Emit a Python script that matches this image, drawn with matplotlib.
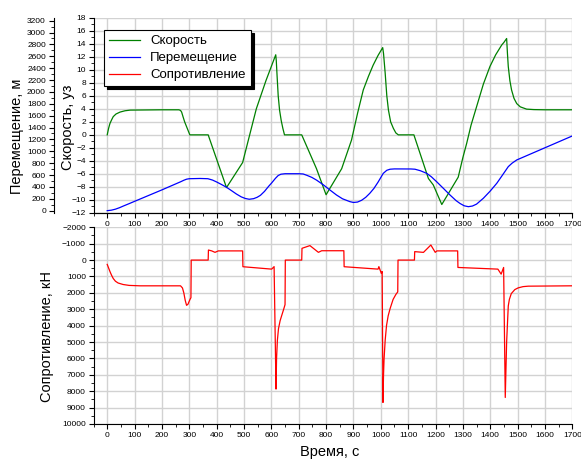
import matplotlib
matplotlib.use("Agg")
import matplotlib.pyplot as plt
from matplotlib.lines import Line2D
from matplotlib.ticker import MultipleLocator

plt.rcParams['font.family'] = ['Liberation Sans', 'DejaVu Sans']

# скорость, уз
t_speed = [0, 5, 10, 16, 22, 32, 47, 65, 84, 200, 262, 268, 272, 277, 283, 302, 369, 436,
           495, 545, 580, 616, 618, 621, 625, 630, 636, 642, 648, 711, 765, 800, 857,
           893, 915, 936, 955, 972, 990, 1007, 1010, 1016, 1022, 1028, 1036, 1046,
           1055, 1064, 1121, 1174, 1192, 1223, 1283, 1300, 1314, 1330, 1350, 1375,
           1399, 1420, 1442, 1450, 1460, 1463, 1466, 1472, 1478, 1487, 1497, 1510,
           1533, 1560, 1600, 1700]
speed = [0, 1.0, 1.75, 2.3, 2.8, 3.2, 3.5, 3.7, 3.8, 3.85, 3.85, 3.75, 3.5, 2.8, 2.0, 0, 0, -8.1,
         -4.25, 4.0, 8.3, 12.3, 11.4, 9.0, 6.0, 3.8, 2.2, 1.0, 0, 0, -5.2, -9.2, -5.2,
         -0.8, 3.3, 6.9, 9.0, 10.7, 12.2, 13.4, 12.5, 9.5, 6.0, 3.8, 2.0, 1.0,
         0.3, 0, 0, -6.7, -7.7, -10.7, -6.5, -3.5, -1.3, 1.5, 4.3, 7.8,
         10.5, 12.3, 13.8, 14.2, 14.8, 12.5, 10.5, 8.3, 6.9, 5.6, 4.8, 4.3,
         3.95, 3.88, 3.85, 3.85]

# перемещение, м
t_disp = [0, 15, 30, 45, 60, 80, 100, 200, 270, 280, 290, 300, 340, 368, 385, 400, 418,
          436, 455, 472, 490, 505, 519, 535, 548, 560, 575, 590, 600, 615, 625, 635,
          650, 700, 716, 730, 748, 765, 790, 815, 838, 860, 887, 900, 915, 930, 945,
          960, 975, 990, 1009, 1022, 1034, 1050, 1110, 1125, 1145, 1168, 1185, 1204,
          1230, 1253, 1275, 1290, 1305, 1320, 1335, 1350, 1375, 1400, 1424, 1445,
          1466, 1480, 1497, 1700]
disp = [0, 8, 25, 50, 80, 118, 157, 350, 490, 512, 530, 538, 542, 538, 515, 483, 440,
        394, 335, 281, 232, 205, 192, 202, 225, 258, 325, 410, 461, 545, 592, 614,
        622, 622, 618, 595, 560, 515, 435, 345, 264, 200, 152, 138, 145, 175, 225,
        293, 375, 480, 628, 680, 698, 703, 702, 698, 672, 628, 570, 488,
        370, 264, 170, 120, 82, 67, 78, 110, 209, 330, 461, 600,
        741, 800, 854, 1258]

# сопротивление, кН
t_res = [0, 5, 10, 16, 22, 30, 40, 58, 80, 120, 268, 275, 280, 285, 290, 295, 300,
         304, 306, 307, 369, 370, 382, 394, 406, 495, 496, 601, 610, 617, 619, 622,
         626, 632, 638, 645, 650, 651, 711, 712, 741, 772, 784, 865, 866, 990, 993,
         1002, 1005, 1008, 1010, 1012, 1016, 1021, 1027, 1034, 1045, 1055, 1062,
         1063, 1123, 1124, 1156, 1183, 1199, 1205, 1281, 1282, 1428, 1440, 1449,
         1455, 1460, 1466, 1470, 1477, 1490, 1502, 1520, 1539, 1700]
res = [264, 480, 700, 930, 1123, 1290, 1400, 1490, 1545, 1571, 1571, 1700, 2000, 2450,
       2760, 2700, 2500, 2350, 2300, 0, 0, -613, -560, -472, -560, -560, 405, 552, 400,
       7871, 6000, 4900, 4190, 3700, 3374, 3000, 2718, 0, 0, -718, -883, -472, -570,
       -570, 405, 552, 400, 816, 700, 8687, 7000, 6030, 4900, 3988, 3400, 2963,
       2400, 2100, 1941, 0, 0, -515, -470, -920, -472, -560, -560, 450, 552, 858,
       450, 8384, 5000, 2800, 2400, 2045, 1800, 1697, 1620, 1592, 1570]

GREEN = '#008000'
BLUE = '#0000ff'
RED = '#ff0000'
GRID = '#d2d2d2'


def style_axis(a):
    a.spines['top'].set_visible(False)
    a.spines['right'].set_visible(False)
    a.tick_params(which='major', direction='out', length=3.5, width=0.8, labelsize=6, pad=2)
    a.tick_params(which='minor', direction='out', length=2, width=0.6)


fig = plt.figure(figsize=(5.81, 4.59), dpi=100)

# верхний график: скорость и перемещение
ax = fig.add_axes([0.161, 0.536, 0.824, 0.4255])
ax.set_xlim(-50, 1700)
ax.set_ylim(-12, 18)
ax.xaxis.set_major_locator(MultipleLocator(100))
ax.xaxis.set_minor_locator(MultipleLocator(50))
ax.yaxis.set_major_locator(MultipleLocator(2))
ax.yaxis.set_minor_locator(MultipleLocator(1))
ax.grid(True, which='major', color=GRID, linewidth=1.0)
ax.set_axisbelow(True)
style_axis(ax)
ax.plot(t_speed, speed, color=GREEN, lw=0.9)

ax_d = ax.twinx()
ax_d.set_ylim(-39, 3250)
ax_d.yaxis.tick_left()
ax_d.yaxis.set_major_locator(MultipleLocator(200))
ax_d.yaxis.set_minor_locator(MultipleLocator(100))
ax_d.spines['left'].set_position(('outward', 28.8))
style_axis(ax_d)
ax_d.plot(t_disp, disp, color=BLUE, lw=0.9)

# нижний график: сопротивление
ax_r = fig.add_axes([0.161, 0.0763, 0.824, 0.4285])
ax_r.set_xlim(-50, 1700)
ax_r.set_ylim(10000, -2000)
ax_r.xaxis.set_major_locator(MultipleLocator(100))
ax_r.xaxis.set_minor_locator(MultipleLocator(50))
ax_r.yaxis.set_major_locator(MultipleLocator(1000))
ax_r.yaxis.set_minor_locator(MultipleLocator(500))
ax_r.grid(True, which='major', color=GRID, linewidth=1.0)
ax_r.set_axisbelow(True)
style_axis(ax_r)
ax_r.plot(t_res, res, color=RED, lw=0.9)

# подписи осей
W, H = 581, 459
fig.text(17 / W, 1 - 136 / H, 'Перемещение, м', rotation=90, ha='center', va='center', fontsize=10.5)
fig.text(68 / W, 1 - 127 / H, 'Скорость, уз', rotation=90, ha='center', va='center', fontsize=10.5)
fig.text(47 / W, 1 - 336 / H, 'Сопротивление, кН', rotation=90, ha='center', va='center', fontsize=10.5)
fig.text(330 / W, 1 - 452 / H, 'Время, с', ha='center', va='center', fontsize=10.5)

handles = [Line2D([], [], color=GREEN, lw=0.9),
           Line2D([], [], color=BLUE, lw=0.9),
           Line2D([], [], color=RED, lw=0.9)]
leg = ax_d.legend(handles, ['Скорость', 'Перемещение', 'Сопротивление'],
                  loc='upper left', bbox_to_anchor=(0.0217, 0.937), borderaxespad=0,
                  fontsize=9.5, handlelength=2.3, labelspacing=0.35, fancybox=False,
                  framealpha=1, edgecolor='black', shadow={'color': 'black', 'alpha': 1})
leg.get_frame().set_linewidth(0.8)

fig.savefig('out.png', dpi=100)
